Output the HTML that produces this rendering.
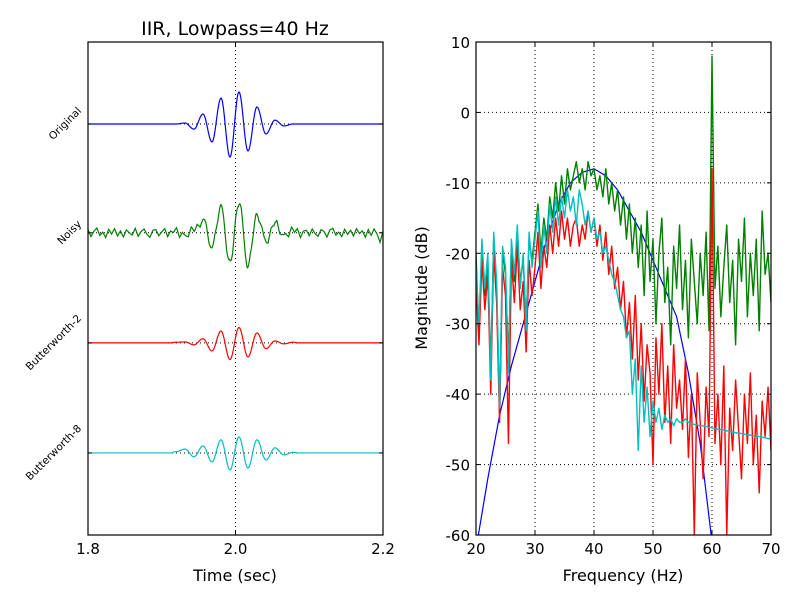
<!DOCTYPE html>
<html><head><meta charset="utf-8"><style>
html,body{margin:0;padding:0;background:#fff}
svg{display:block;font-family:"DejaVu Sans","Liberation Sans",sans-serif}
</style></head><body>
<svg id="fig" width="800" height="600" viewBox="0 0 800 600">
<rect width="800" height="600" fill="#fff"/>
<g id="left"></g>
<g id="right"></g>
</svg>
<script>
// ---- Left panel data ----
const signalNames = ["Original","Noisy","Butterworth-2","Butterworth-8"];
const signalOffsets = [0, -3.4, -6.84, -10.28];
const burstStart = 1.9193;  // time of first extremum (sec)
const burstStep = 0.0122;   // time between extrema (sec)
const originalExtrema = [0.0, 0.03, -0.16, 0.31, -0.56, 0.81, -1.03, 1.0, -0.84, 0.53, -0.31, 0.12, -0.06, 0.0];
const noisyExtrema = [0.05, -0.08, 0.1, 0.37, -0.44, 0.81, -0.97, 0.97, -1.03, 0.59, -0.28, 0.28, -0.1, 0.08];
const butter2Extrema = [0.02, 0.03, -0.06, 0.13, -0.25, 0.37, -0.52, 0.48, -0.44, 0.31, -0.18, 0.06, -0.03, 0.02];
const butter8Extrema = [0.04, 0.12, -0.12, 0.22, -0.28, 0.41, -0.53, 0.5, -0.47, 0.41, -0.22, 0.16, -0.06, 0.02];
const noiseStep = 0.004;
const noisyNoise = [0.1,-0.12,0.05,0.15,-0.08,0.02,-0.15,0.11,-0.04,0.13,-0.1,0.06,-0.13,0.09,0.0,-0.07,0.14,-0.11,0.04,0.12,-0.05,-0.14,0.08,0.1,-0.09,0.03,0.13,-0.12,0.06,-0.02,0.11,-0.15,0.07,0.0,-0.1,0.12,-0.06,0.09,-0.13,0.05,0.14,-0.08,-0.03,0.1,-0.11,0.07,0.02,-0.12,0.13,-0.05,0.08,-0.14,0.11,0.01,-0.09,0.12,-0.07,0.04,-0.13,0.1,0.06,-0.11,0.09,-0.04,0.14,-0.1,0.03,0.07,-0.12,0.11,-0.06,0.13,-0.15,0.05,0.08,-0.09,0.12,-0.03,-0.11,0.1,0.04,-0.13,0.09,0.14,-0.07,0.02,-0.12,0.11,-0.05,0.08,-0.1,0.13,-0.02,0.06,-0.14,0.1,-0.08,0.12,-0.04,-0.3,0.05];
const timeTicks = [1.8, 2.0, 2.2];
const timeTickLabels = ["1.8","2.0","2.2"];

// ---- Right panel data ----
const freqStart = 20, freqStep = 0.5;
const blueFreqs = [20,22,24,26,28,30,32,34,36,38,40,42,44,46,48,50,52,54,56,58,60,62];
const blueDb = [-62,-52,-43,-36,-30,-24,-18,-13,-10,-8.5,-8,-9,-11,-14,-17,-21,-25,-29,-37,-47,-61,-72];
const greenDb = [-20,-32,-19,-26,-21,-36,-18,-25,-43,-20,-23,-35,-19,-24,-17,-24,-21,-30,-18,-21,
 -17,-13,-20,-15,-18,-12,-15,-10,-14,-9,-13,-8,-11,-9,
 -7,-10,-8,-11,-7,-9,-8,-11,-9,-12,-8,-13,-10,-14,-11,-16,
 -12,-18,-13,-20,-15,-22,-16,-26,-14,-24,
 -18,-30,-20,-15,-27,-22,-33,-19,-25,-16,-28,-21,-32,-18,-24,-30,-20,-26,-17,-31,
 8,-25,-19,-29,-22,-16,-27,-21,-33,-18,-24,-15,-29,-20,-26,-18,-31,-14,-23,-20,-27];
const redDb = [-24,-33,-21,-28,-23,-40,-20,-27,-44,-22,-26,-47,-21,-27,-19,-28,-24,-34,-21,-26,
 -22,-17,-25,-19,-22,-16,-20,-15,-19,-14,-18,-15,-19,-16,
 -15,-19,-16,-18,-14,-17,-15,-19,-16,-21,-17,-23,-19,-25,-22,-28,
 -24,-32,-27,-35,-26,-38,-30,-41,-33,-37,
 -50,-32,-40,-30,-44,-36,-47,-33,-42,-38,-45,-35,-49,-40,-60,-37,-44,-52,-39,-46,
 -8,-47,-40,-50,-36,-60,-42,-48,-38,-45,-52,-40,-47,-37,-50,-43,-54,-41,-46,-39,-48];
const cyanDb = [-22,-30,-18,-25,-20,-38,-17,-24,-42,-19,-22,-37,-18,-23,-16,-25,-20,-31,-17,-22,-18,-14,-22,-16,-20,-13,-17,-12,-16,-12,-15,-11,-14,-12,-16,-11,-13,-16,-14,-17,-15,-18,-17,-20,-19,-21,-23,-24,-26,-28,-29,-32,-31,-40,-35,-48,-36,-44,-39,-46,-41,-44,-42,-45,-43,-44,-43.5,-44.5,-43.5,-44,-44,-43.5,-44,-44.2,-44.3,-44.4,-44.5,-44.5,-44.6,-44.7,-44.8,-44.9,-45,-45,-45.1,-45.2,-45.3,-45.4,-45.5,-45.5,-45.6,-45.7,-45.8,-45.8,-45.9,-46,-46,-46.1,-46.2,-46.3,-46.4];
const freqTicks = [20,30,40,50,60,70];
const dbTicks = [10,0,-10,-20,-30,-40,-50,-60];

const NS="http://www.w3.org/2000/svg";
function mk(parent, tag, attrs, text){const e=document.createElementNS(NS,tag);for(const k in attrs)e.setAttribute(k,attrs[k]);if(text!==undefined)e.textContent=text;parent.appendChild(e);return e;}

// ---- Left panel ----
const L={x0:88,x1:383,y0:42,y1:535};
const tx=t=>L.x0+(t-1.8)/0.4*(L.x1-L.x0);
const ly=v=>124-v*32;
const left=document.getElementById('left');
function burst(t, ex){
  const n=ex.length, u=(t-burstStart)/burstStep;
  if(u<-0.5||u>n-0.5) return 0;
  if(u<0){const a=ex[0];return a*Math.cos(Math.PI*(-u));}
  if(u>n-1){const a=ex[n-1];return a*Math.cos(Math.PI*(u-(n-1)));}
  const k=Math.floor(u), f=u-k, a=ex[k], b=ex[k+1];
  return (a+b)/2+(a-b)/2*Math.cos(Math.PI*f);
}
function noiseAt(t){const u=(t-1.8)/noiseStep;const k=Math.min(Math.floor(u),noisyNoise.length-2);const f=u-k;return noisyNoise[k]*(1-f)+noisyNoise[k+1]*f;}
// grid
let g=mk(left,'line',{x1:tx(2.0),x2:tx(2.0),y1:L.y0,y2:L.y1,stroke:'#000','stroke-width':1,'stroke-dasharray':'1,3'});


signalOffsets.forEach((o,i)=>{
  const hl=mk(left,'line',{x1:L.x0,x2:L.x1,y1:ly(o),y2:ly(o),stroke:'#000','stroke-width':1,'stroke-dasharray':'1,3'});
  
  
});
const series=[[originalExtrema,'#0000ff',false],[noisyExtrema,'#008000',true],[butter2Extrema,'#ff0000',false],[butter8Extrema,'#00bfbf',false]];
const sigNames=['original-trace','noisy-trace','butterworth2-trace','butterworth8-trace'];
series.forEach((s,i)=>{
  let d='';
  for(let k=0;k<=800;k++){const t=1.8+k*0.0005;let v=burst(t,s[0]);if(s[2])v+=noiseAt(t);d+=(k?'L':'M')+tx(t).toFixed(2)+','+ly(v+signalOffsets[i]).toFixed(2);}
  const p=mk(left,'path',{d:d,fill:'none',stroke:s[1],'stroke-width':1.2});
  
  
});
mk(left,'rect',{x:L.x0,y:L.y0,width:L.x1-L.x0,height:L.y1-L.y0,fill:'none',stroke:'#000','stroke-width':1.2});
timeTicks.forEach((t,i)=>{
  mk(left,'line',{x1:tx(t),x2:tx(t),y1:L.y1,y2:L.y1-4,stroke:'#000'});
  mk(left,'line',{x1:tx(t),x2:tx(t),y1:L.y0,y2:L.y0+4,stroke:'#000'});
  const lb=mk(left,'text',{x:tx(t),y:554,'font-size':15,'text-anchor':'middle'},timeTickLabels[i]);
  
  
});
signalNames.forEach((nm,i)=>{
  const y=ly(signalOffsets[i]);
  mk(left,'line',{x1:L.x0,x2:L.x0+4,y1:y,y2:y,stroke:'#000'});
  mk(left,'line',{x1:L.x1,x2:L.x1-4,y1:y,y2:y,stroke:'#000'});
  const tl=mk(left,'text',{'font-size':10.5,'text-anchor':'end'},nm);
  const len=tl.getComputedTextLength();
  const ex=82, ey=y-len*0.707/2+2;
  tl.setAttribute('transform',`translate(${ex},${ey}) rotate(-45)`);
  
  
});
let tt=mk(left,'text',{x:235,y:35,'font-size':19,'text-anchor':'middle'},'IIR, Lowpass=40 Hz');


let xl=mk(left,'text',{x:235,y:581,'font-size':16,'text-anchor':'middle'},'Time (sec)');



// ---- Right panel ----
const R={x0:476,x1:771,y0:42,y1:535};
const fx=f=>R.x0+(f-20)/50*(R.x1-R.x0);
const dy=v=>R.y0+(10-v)/70*(R.y1-R.y0);
const right=document.getElementById('right');
const cp=mk(right,'clipPath',{id:'rc'});mk(cp,'rect',{x:R.x0,y:R.y0,width:R.x1-R.x0,height:R.y1-R.y0});
freqTicks.slice(1,-1).forEach(f=>{const l=mk(right,'line',{x1:fx(f),x2:fx(f),y1:R.y0,y2:R.y1,stroke:'#000','stroke-dasharray':'1,3'});
  
  });
dbTicks.slice(1,-1).forEach(v=>{const l=mk(right,'line',{x1:R.x0,x2:R.x1,y1:dy(v),y2:dy(v),stroke:'#000','stroke-dasharray':'1,3'});
  
  });
const plotG=mk(right,'g',{'clip-path':'url(#rc)'});
function line(xs,ys,color,name,w){let d='';xs.forEach((x,i)=>{d+=(i?'L':'M')+fx(x).toFixed(2)+','+dy(ys[i]).toFixed(2);});
  const p=mk(plotG,'path',{d:d,fill:'none',stroke:color,'stroke-width':w,'stroke-linejoin':'round'});
  
  }
const fr=arr=>arr.map((_,i)=>freqStart+i*freqStep);
line(blueFreqs,blueDb,'#0000ff','original-spectrum',1.2);
line(fr(greenDb),greenDb,'#008000','noisy-spectrum',1.4);
line(fr(redDb),redDb,'#ff0000','butterworth2-spectrum',1.4);
line(fr(cyanDb),cyanDb,'#00bfbf','butterworth8-spectrum',1.4);
mk(right,'rect',{x:R.x0,y:R.y0,width:R.x1-R.x0,height:R.y1-R.y0,fill:'none',stroke:'#000','stroke-width':1.2});
freqTicks.forEach(f=>{
  mk(right,'line',{x1:fx(f),x2:fx(f),y1:R.y1,y2:R.y1-4,stroke:'#000'});
  mk(right,'line',{x1:fx(f),x2:fx(f),y1:R.y0,y2:R.y0+4,stroke:'#000'});
  const lb=mk(right,'text',{x:fx(f),y:554,'font-size':15,'text-anchor':'middle'},String(f));
  
  
});
dbTicks.forEach(v=>{
  mk(right,'line',{x1:R.x0,x2:R.x0+4,y1:dy(v),y2:dy(v),stroke:'#000'});
  mk(right,'line',{x1:R.x1,x2:R.x1-4,y1:dy(v),y2:dy(v),stroke:'#000'});
  const lb=mk(right,'text',{x:R.x0-6,y:dy(v)+6,'font-size':15,'text-anchor':'end'},String(v));
  
  
});
let fl=mk(right,'text',{x:623,y:581,'font-size':16,'text-anchor':'middle'},'Frequency (Hz)');


let yl=mk(right,'text',{x:0,y:0,'font-size':16,'text-anchor':'middle',transform:'translate(427,288) rotate(-90)'},'Magnitude (dB)');


</script>
</body></html>
